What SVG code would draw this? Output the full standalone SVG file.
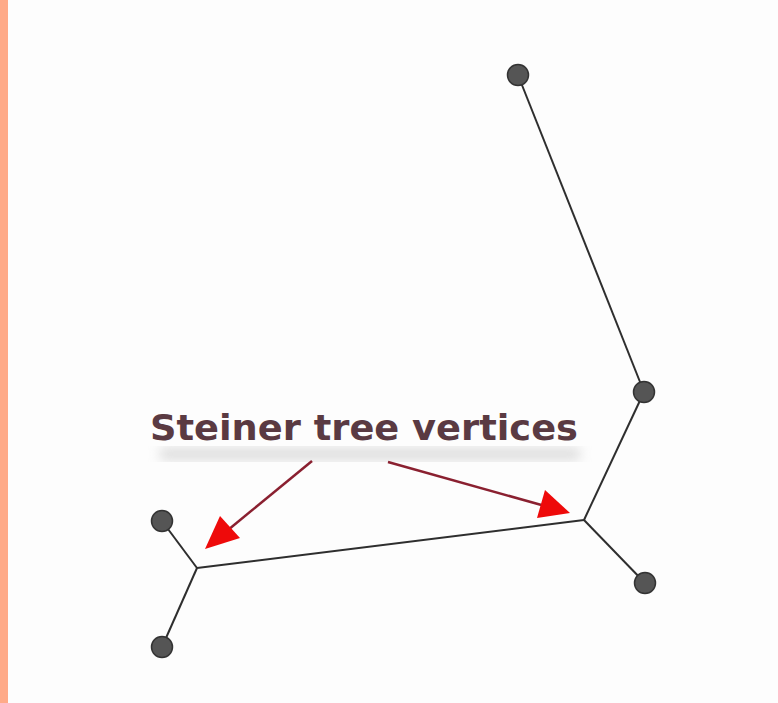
<svg xmlns="http://www.w3.org/2000/svg" width="778" height="703" viewBox="0 0 778 703">
<defs>
<style>
.edge{stroke:#2e2e2e;stroke-width:2;fill:none}
.node{fill:#555;stroke:#333;stroke-width:1.5}
.arr{stroke:#8a2030;stroke-width:2.5;fill:none}
.lbl{font-family:"DejaVu Sans",Verdana,sans-serif;font-size:35px;font-weight:bold;fill:#5a3a42}
</style>
<filter id="blur"><feGaussianBlur stdDeviation="6"/></filter>
</defs>
<rect width="778" height="703" fill="#fdfdfd"/>
<rect x="0" y="0" width="8" height="703" fill="#ffaa88"/>
<g id="connectors">
<line class="edge" x1="518" y1="75" x2="644" y2="392"/>
<line class="edge" x1="644" y1="392" x2="584" y2="520"/>
<line class="edge" x1="584" y1="520" x2="645" y2="583"/>
<line class="edge" x1="584" y1="520" x2="197" y2="568"/>
<line class="edge" x1="197" y1="568" x2="162" y2="521"/>
<line class="edge" x1="197" y1="568" x2="162" y2="647"/>
</g>
<g id="label">
<rect x="160" y="448" width="420" height="12" fill="#bbb" opacity="0.5" filter="url(#blur)"/>
<text class="lbl" x="150" y="440" textLength="428" lengthAdjust="spacingAndGlyphs">Steiner tree vertices</text>
</g>
<g id="arrows">
<line class="arr" x1="312" y1="461" x2="228" y2="530"/>
<polygon points="205,549 220,516 240,538" fill="#ee0a0a"/>
<line class="arr" x1="388" y1="462" x2="545" y2="506"/>
<polygon points="570,513 537,518 545,490" fill="#ee0a0a"/>
</g>
<g id="n1"><circle class="node" cx="518" cy="75" r="10.5"/></g>
<g id="n2"><circle class="node" cx="644" cy="392" r="10.5"/></g>
<g id="n3"><circle class="node" cx="645" cy="583" r="10.5"/></g>
<g id="n4"><circle class="node" cx="162" cy="521" r="10.5"/></g>
<g id="n5"><circle class="node" cx="162" cy="647" r="10.5"/></g>
</svg>
